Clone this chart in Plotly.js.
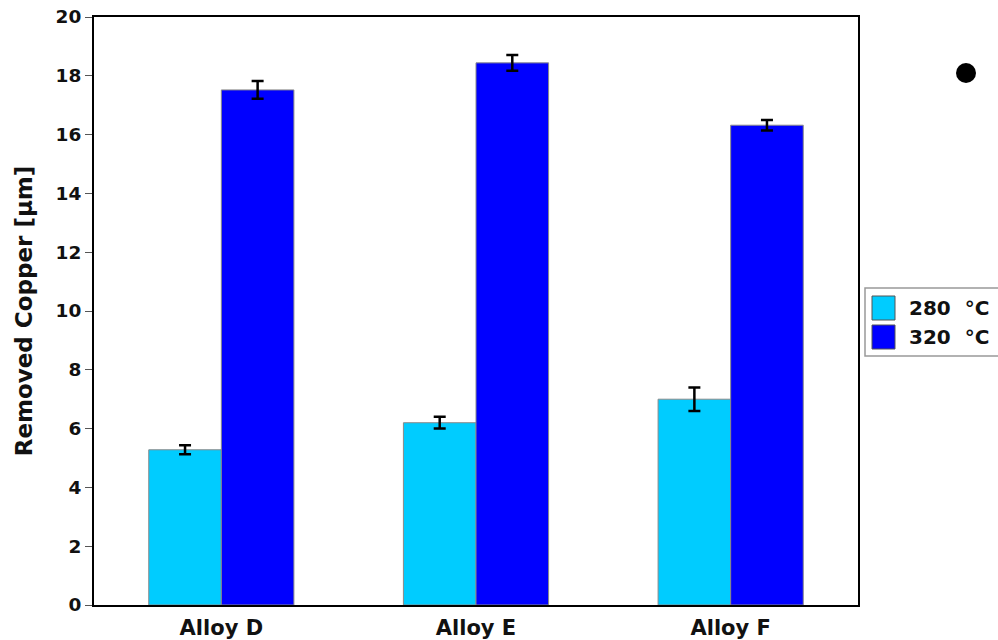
<!DOCTYPE html>
<html>
<head>
<meta charset="utf-8">
<script src="https://cdn.plot.ly/plotly-3.0.1.min.js"></script>
<style>html,body{margin:0;padding:0;background:#fff;}#chart{width:998px;height:640px;}</style>
</head>
<body>
<div id="chart"></div>
<script>
const categories = ["Alloy D", "Alloy E", "Alloy F"];
const series280 = [5.28, 6.2, 7.0];
const err280 = [0.15, 0.2, 0.4];
const series320 = [17.52, 18.44, 16.32];
const err320 = [0.3, 0.27, 0.18];
const seriesNames = ["280 °C", "320 °C"];
const seriesColors = ["#00CCFF", "#0000FF"];
const yTicks = [0, 2, 4, 6, 8, 10, 12, 14, 16, 18, 20];

// plot-area geometry (pixels) used to place the hand-drawn legend and bullet
const L = 94, R = 858, T = 17, B = 605;
const px = v => (v - L) / (R - L);
const py = v => (B - v) / (B - T);

const boldFont = (size) => ({family: "DejaVu Sans", size: size, color: "#111", weight: "bold"});

const traces = [
  {type: "bar", x: categories, y: series280, name: seriesNames[0],
   marker: {color: seriesColors[0], line: {color: "#8a8a8a", width: 1}},
   error_y: {type: "data", array: err280, visible: true, color: "#000", thickness: 2.5, width: 6}},
  {type: "bar", x: categories, y: series320, name: seriesNames[1],
   marker: {color: seriesColors[1], line: {color: "#8a8a8a", width: 1}},
   error_y: {type: "data", array: err320, visible: true, color: "#000", thickness: 2.5, width: 6}}
];

const shapes = [
  // bullet
  {type: "circle", xref: "paper", yref: "paper",
   x0: px(956), x1: px(976), y0: py(83), y1: py(63),
   fillcolor: "#000", line: {color: "#000", width: 0}},
  // legend box
  {type: "rect", xref: "paper", yref: "paper",
   x0: px(865), x1: px(1010), y0: py(356), y1: py(288),
   fillcolor: "#fff", line: {color: "#999", width: 1.5}}
];
const annotations = [];
const rowsY = [308, 337];
seriesNames.forEach((nm, i) => {
  shapes.push({type: "rect", xref: "paper", yref: "paper",
    x0: px(872), x1: px(895), y0: py(rowsY[i] + 12), y1: py(rowsY[i] - 12),
    fillcolor: seriesColors[i], line: {color: "#555", width: 1}});
  annotations.push({xref: "paper", yref: "paper", x: px(907), y: py(rowsY[i]),
    xanchor: "left", yanchor: "middle", showarrow: false, text: nm.replace(" ", "  "),
    font: boldFont(20)});
});

const layout = {
  width: 998, height: 640,
  margin: {l: L, r: 998 - R, t: T, b: 640 - B},
  paper_bgcolor: "#fff", plot_bgcolor: "#fff",
  barmode: "group", bargap: 0.43, bargroupgap: 0,
  font: boldFont(16),
  showlegend: false,
  xaxis: {type: "category", range: [-0.5, 2.5], showline: true, linecolor: "#000", linewidth: 2,
    mirror: true, ticks: "outside", ticklen: 3, tickcolor: "rgba(0,0,0,0)", showgrid: false, zeroline: false,
    tickfont: boldFont(21)},
  yaxis: {range: [0, 20], tickvals: yTicks, ticktext: yTicks.map(String),
    showline: true, linecolor: "#000", linewidth: 2, mirror: true,
    ticks: "outside", ticklen: 7, tickcolor: "#555", tickwidth: 1,
    showgrid: false, zeroline: false,
    tickfont: boldFont(18.5),
    title: {text: "Removed Copper [µm]", standoff: 16, font: boldFont(23)}},
  shapes: shapes,
  annotations: annotations
};

Plotly.newPlot("chart", traces, layout, {displayModeBar: false, staticPlot: true});
</script>
</body>
</html>
